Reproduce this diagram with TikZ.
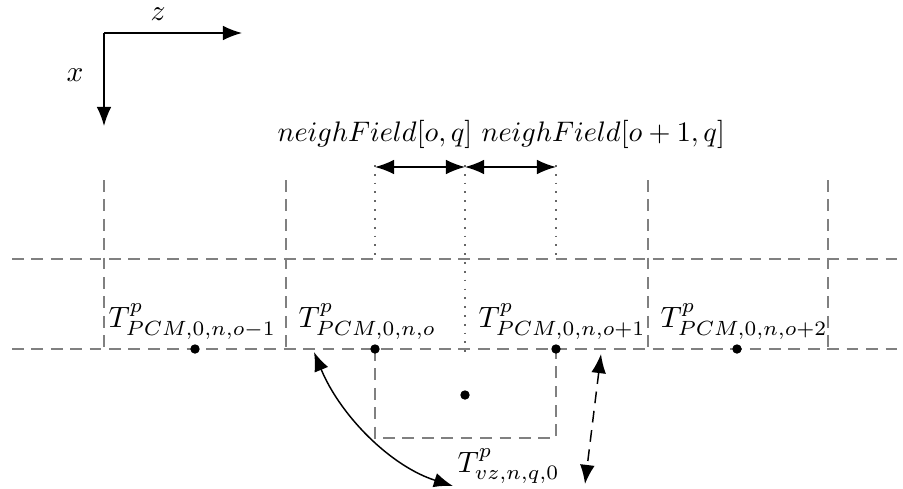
\documentclass[tikz,border=0pt]{standalone}
\usetikzlibrary{arrows.meta}
\begin{document}
\begin{tikzpicture}[x=0.34pt,y=-0.34pt,
  tip/.tip={Latex[length=6.5pt,width=5pt]},
  gridline/.style={draw=gray, line width=0.65pt, dash pattern=on 4pt off 2.6pt},
  dotline/.style={draw=gray!80!black, line width=0.6pt, dash pattern=on 0.6pt off 2.4pt},
  dimarrow/.style={draw=black, line width=0.5pt, tip-tip},
  axis/.style={draw=black, line width=0.5pt, -tip},
  pt/.style={circle, fill=black, inner sep=0pt, minimum size=3.2pt},
  lbl/.style={inner sep=0pt, anchor=base west}]
\useasboundingbox (0,0) rectangle (903,488);
% axes
\coordinate (O) at (104,33);
\coordinate (Z) at (242,33);
\coordinate (X) at (104,126);
\draw[axis] (O) -- (Z);
\draw[axis] (O) -- (X);
\node (zl) at (158,14) {$z$};
\node (xl) at (75,75) {$x$};
% horizontal grid lines
\coordinate (h1a) at (12,259); \coordinate (h1b) at (903,259);
\coordinate (h2a) at (12,349); \coordinate (h2b) at (903,349);
\draw[gridline] (h1a) -- (h1b);
\draw[gridline] (h2a) -- (h2b);
% vertical dashed lines
\foreach \xx/\nm in {104/a,286/b,648/c,828/d}{
  \coordinate (v\nm t) at (\xx,180);
  \coordinate (v\nm b) at (\xx,349);
  \draw[gridline] (v\nm t) -- (v\nm b);
}
% dotted lines
\coordinate (d1t) at (375,165); \coordinate (d1b) at (375,259);
\coordinate (d2t) at (465,165); \coordinate (d2b) at (465,352);
\coordinate (d3t) at (556,165); \coordinate (d3b) at (556,259);
\draw[dotline] (d1t) -- (d1b);
\draw[dotline] (d2t) -- (d2b);
\draw[dotline] (d3t) -- (d3b);
% dimension arrows
\coordinate (a1) at (375,167);
\coordinate (a2) at (465,167);
\coordinate (a3) at (556,167);
\draw[dimarrow] (a1) -- (a2);
\draw[dimarrow] (a2) -- (a3);
\node[lbl] (nf1) at (277,141) {\scalebox{0.96}{$neighField[o,q]$}};
\node[lbl] (nf2) at (481,141) {\scalebox{0.96}{$neighField[o+1,q]$}};
% lower box
\coordinate (b1) at (375,349);
\coordinate (b2) at (375,438);
\coordinate (b3) at (556,438);
\coordinate (b4) at (556,349);
\draw[gridline] (b1) -- (b2) -- (b3) -- (b4);
% dots
\node[pt] (p1) at (195,349) {};
\node[pt] (p2) at (375,349) {};
\node[pt] (p3) at (556,349) {};
\node[pt] (p4) at (737,349) {};
\node[pt] (p5) at (465,395) {};
% labels
\node[lbl] (t1) at (108,327) {$T^p_{PCM,0,n,o-1}$};
\node[lbl] (t2) at (298,327) {$T^p_{PCM,0,n,o}$};
\node[lbl] (t3) at (478,327) {$T^p_{PCM,0,n,o+1}$};
\node[lbl] (t4) at (660,327) {$T^p_{PCM,0,n,o+2}$};
\node[lbl] (tv) at (457,472) {$T^p_{vz,n,q,0}$};
% curved arrow
\coordinate (c1) at (314,352);
\coordinate (c2) at (453,486);
\draw[dimarrow] (c1) .. controls (340,415) and (390,466) .. (c2);
% dashed arrow
\coordinate (e1) at (601,354);
\coordinate (e2) at (585,484);
\draw[dimarrow, dash pattern=on 4pt off 2.6pt] (e1) -- (e2);
\end{tikzpicture}
\end{document}
